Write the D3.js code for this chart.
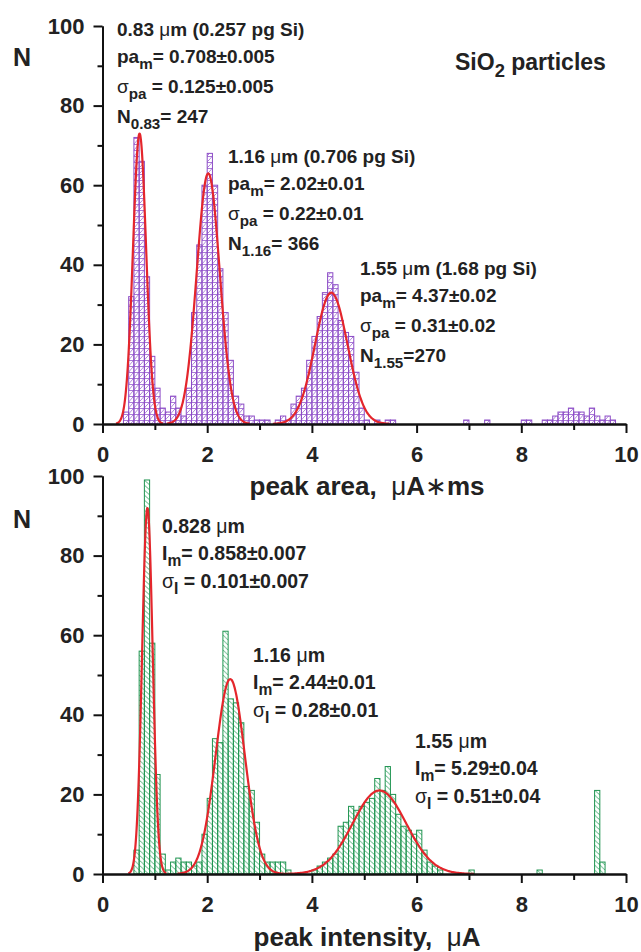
<!DOCTYPE html>
<html>
<head>
<meta charset="utf-8">
<script src="https://cdn.jsdelivr.net/npm/d3@7"></script>
<style>
  body { margin: 0; background: #fff; }
  svg { display: block; font-family: "Liberation Sans", Arial, sans-serif; }
  text { white-space: pre; }
</style>
</head>
<body>
<div id="chart"></div>
<script>
// histogram bins (left edge) and counts, bin width 0.1
const binWidth = 0.1;

const areaBinLeft = [0.4, 0.5, 0.6, 0.7, 0.8, 0.9, 1.0, 1.1, 1.2, 1.3, 1.4, 1.5, 1.6, 1.7, 1.8, 1.9,
  2.0, 2.1, 2.2, 2.3, 2.4, 2.5, 2.6, 2.7, 2.8, 2.9, 3.0, 3.1, 3.3, 3.4, 3.5, 3.6, 3.7, 3.8, 3.9,
  4.0, 4.1, 4.2, 4.3, 4.4, 4.5, 4.6, 4.7, 4.8, 4.9, 5.0, 5.2, 5.4, 5.5, 6.9, 7.3, 8.0, 8.1,
  8.4, 8.5, 8.6, 8.7, 8.8, 8.9, 9.0, 9.1, 9.2, 9.3, 9.4, 9.5, 9.6, 9.7];
const areaCount = [3, 32, 72, 66, 37, 17, 9, 4, 3, 7, 4, 2, 9, 28, 45, 60,
  68, 60, 39, 28, 16, 7, 5, 2, 2, 1, 1, 1, 1, 2, 1, 5, 7, 9, 16,
  22, 27, 33, 38, 35, 26, 23, 22, 13, 4, 1, 1, 1, 1, 1, 1, 1, 1,
  1, 1, 2, 3, 3, 4, 3, 3, 2, 4, 2, 1, 2, 1];

const intBinLeft = [0.6, 0.7, 0.8, 0.9, 1.0, 1.1, 1.2, 1.3, 1.4, 1.5, 1.6, 1.7, 1.8, 1.9,
  2.0, 2.1, 2.2, 2.3, 2.4, 2.5, 2.6, 2.7, 2.8, 2.9, 3.0, 3.1, 3.2, 3.3, 3.4, 3.5,
  4.0, 4.1, 4.2, 4.3, 4.4, 4.5, 4.6, 4.7, 4.8, 4.9, 5.0, 5.1, 5.2, 5.3, 5.4, 5.5, 5.6,
  5.7, 5.8, 5.9, 6.0, 6.1, 6.2, 6.3, 6.4, 7.0, 8.3, 9.4, 9.5];
const intCount = [6, 56, 99, 58, 25, 5, 1, 3, 4, 3, 3, 2, 3, 10,
  19, 34, 33, 61, 44, 43, 38, 22, 21, 13, 5, 3, 3, 3, 3, 1,
  1, 2, 3, 4, 5, 12, 13, 17, 16, 17, 18, 19, 24, 21, 27, 20, 15,
  12, 11, 10, 11, 6, 3, 2, 1, 1, 1, 21, 3];

// gaussian fit parameters (mean, sigma, peak height)
const areaFitMean = [0.708, 2.02, 4.37];
const areaFitSigma = [0.125, 0.22, 0.31];
const areaFitPeak = [73, 63, 33];
const intFitMean = [0.858, 2.44, 5.29];
const intFitSigma = [0.101, 0.28, 0.51];
const intFitPeak = [92, 49, 21];

// tick values
const xTicks = [0, 2, 4, 6, 8, 10];
const xMinor = [1, 3, 5, 7, 9];
const yTicks = [0, 20, 40, 60, 80, 100];
const yMinor = [10, 30, 50, 70, 90];

// annotation texts
const areaNotes = [
  ["0.83 μm (0.257 pg Si)", "pa_{m}= 0.708±0.005", "σ_{pa} = 0.125±0.005", "N_{0.83}= 247"],
  ["1.16 μm (0.706 pg Si)", "pa_{m}= 2.02±0.01", "σ_{pa} = 0.22±0.01", "N_{1.16}= 366"],
  ["1.55 μm (1.68 pg Si)", "pa_{m}= 4.37±0.02", "σ_{pa} = 0.31±0.02", "N_{1.55}=270"]
];
const intNotes = [
  ["0.828 μm", "I_{m}= 0.858±0.007", "σ_{I} = 0.101±0.007"],
  ["1.16 μm", "I_{m}= 2.44±0.01", "σ_{I} = 0.28±0.01"],
  ["1.55 μm", "I_{m}= 5.29±0.04", "σ_{I} = 0.51±0.04"]
];

const W = 641, H = 952;
const svg = d3.select("#chart").append("svg").attr("width", W).attr("height", H);
const defs = svg.append("defs");

const purple = "#8c4cc6", green = "#1f9450", red = "#e4262c";

// writes text with _{sub} parts, μ/σ/∗ in normal weight
function richText(g, x, y, str, size) {
  const t = g.append("text").attr("x", x).attr("y", y)
    .attr("font-size", size).attr("font-weight", "bold").attr("fill", "#222");
  const parts = str.split(/(_\{[^}]*\})/).filter(s => s.length);
  let shift = 0;
  parts.forEach(p => {
    const isSub = p.startsWith("_{");
    const txt = isSub ? p.slice(2, -1) : p;
    const target = isSub ? size * 0.32 : 0;
    txt.split(/([μσ∗])/).filter(s => s.length).forEach((piece, i) => {
      const s = t.append("tspan").text(piece);
      if (i === 0 && target !== shift) { s.attr("dy", target - shift); shift = target; }
      if (isSub) s.attr("font-size", size * 0.8);
      if (piece === "μ" || piece === "σ" || piece === "∗") s.attr("font-weight", "normal");
    });
  });
  return t;
}

function panel(cfg) {
  const x = d3.scaleLinear().domain([0, 10]).range([102.5, 626]);
  const y = d3.scaleLinear().domain([0, 100]).range([cfg.y0, cfg.y0 - 398]);
  const bw = x(binWidth) - x(0);
  const g = svg.append("g");

  // hatch pattern for bars
  const pat = defs.append("pattern").attr("id", cfg.id)
    .attr("patternUnits", "userSpaceOnUse")
    .attr("x", x(0)).attr("y", 0)
    .attr("width", bw).attr("height", cfg.hatchH);
  pat.append("path").attr("d", cfg.hatch(bw))
    .attr("stroke", cfg.hatchColor).attr("stroke-width", 0.8).attr("fill", "none");

  // bars
  g.selectAll("rect.bar").data(cfg.left.map((b, i) => ({ b, n: cfg.count[i] })))
    .enter().append("rect")
    .attr("x", d => x(d.b))
    .attr("width", bw)
    .attr("y", d => y(d.n))
    .attr("height", d => y(0) - y(d.n))
    .attr("fill", `url(#${cfg.id})`)
    .attr("stroke", cfg.color)
    .attr("stroke-width", 1);

  // fit curves
  const line = d3.line().x(d => x(d[0])).y(d => y(d[1])).curve(d3.curveBasis);
  cfg.mean.forEach((m, i) => {
    const s = cfg.sigma[i], a = cfg.peak[i];
    const pts = d3.range(m - 3.6 * s, m + 3.6 * s, s / 20)
      .map(v => [v, a * Math.exp(-0.5 * ((v - m) / s) ** 2)]);
    g.append("path").datum(pts).attr("d", line)
      .attr("fill", "none").attr("stroke", red).attr("stroke-width", 2.2);
  });

  // axes
  g.append("g").attr("transform", `translate(${x(0)},0)`)
    .call(d3.axisLeft(y).tickValues(yTicks).tickSize(9).tickSizeOuter(0).tickPadding(9));
  g.append("g").attr("transform", `translate(${x(0)},0)`)
    .call(d3.axisLeft(y).tickValues(yMinor).tickSize(5).tickSizeOuter(0).tickFormat(""));
  g.append("g").attr("transform", `translate(0,${y(0)})`)
    .call(d3.axisBottom(x).tickValues(xTicks).tickSize(9).tickSizeOuter(0).tickPadding(13));
  g.append("g").attr("transform", `translate(0,${y(0)})`)
    .call(d3.axisBottom(x).tickValues(xMinor).tickSize(6).tickSizeOuter(0).tickFormat(""));
  g.selectAll(".domain, .tick line").attr("stroke", "#111").attr("stroke-width", 2);
  g.selectAll(".tick text").attr("font-size", 22).attr("font-weight", "bold")
    .attr("fill", "#222").attr("font-family", null);
  g.selectAll(".domain").raise();

  // axis labels
  g.append("text").attr("x", 13).attr("y", cfg.y0 - cfg.nDy).attr("font-size", 25)
    .attr("font-weight", "bold").attr("fill", "#222").text("N");
  richText(g, 367, cfg.y0 + cfg.titleDy, cfg.title, 26).attr("text-anchor", "middle");

  // annotations
  cfg.notes.forEach((lines, i) => {
    lines.forEach((s, j) => richText(g, cfg.notePos[i][0], cfg.notePos[i][1] + cfg.noteStep[j], s, cfg.noteSize));
  });
}

panel({
  id: "hatchPurple", y0: 424, left: areaBinLeft, count: areaCount,
  mean: areaFitMean, sigma: areaFitSigma, peak: areaFitPeak,
  color: purple, hatchColor: "#9a62d0", hatchH: 6,
  hatch: bw => `M0,0.5H${bw}M0,6L${bw},0`,
  title: "peak area,  μA∗ms", titleDy: 71, nDy: 358,
  notes: areaNotes, notePos: [[117, 36], [228, 163], [360, 275]], noteStep: [0, 27, 57, 87], noteSize: 19
});

panel({
  id: "hatchGreen", y0: 874, left: intBinLeft, count: intCount,
  mean: intFitMean, sigma: intFitSigma, peak: intFitPeak,
  color: green, hatchColor: "#33a463", hatchH: 5,
  hatch: bw => `M0,0L${bw},5`,
  title: "peak intensity,  μA", titleDy: 72, nDy: 346,
  notes: intNotes, notePos: [[162, 533], [253, 662], [415, 748]], noteStep: [0, 27, 55], noteSize: 19.5
});

// panel title
richText(svg, 455, 70, "SiO_{2} particles", 23);
</script>
</body>
</html>
